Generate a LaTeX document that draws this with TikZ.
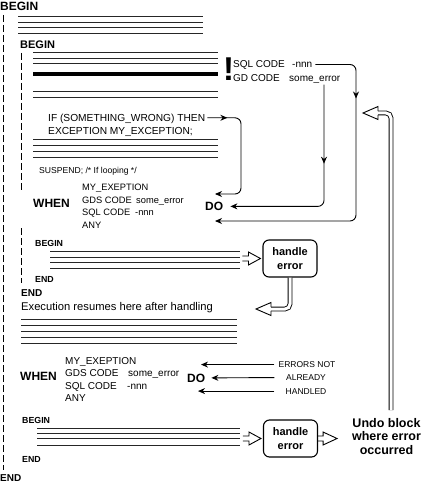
\documentclass[tikz,border=0pt]{standalone}
\usepackage{fontspec}
\setmainfont{Liberation Sans}
\usetikzlibrary{arrows.meta,decorations.markings}
\begin{document}
\begin{tikzpicture}[x=1pt,y=-1pt,
  txt/.style={inner sep=0pt, anchor=base west},
  kw/.style={txt, font=\fontsize{12}{14}\selectfont\bfseries},
  kwsmall/.style={txt, font=\fontsize{8.8}{10}\selectfont\bfseries},
  ctxt/.style={txt, font=\fontsize{10}{12}\selectfont},
  ctxtn/.style={txt, font=\fontsize{9.3}{11}\selectfont},
  codeline/.style={line width=0.7pt, black!85},
  vrule/.style={line width=0.9pt, dash pattern=on 7pt off 3pt},
  conn/.style={line width=0.9pt, rounded corners=6pt},
  arr/.style={-{Stealth[length=7pt,width=6pt]}},
  midarr/.style={decoration={markings, mark=at position #1 with {\arrow{Stealth[length=7pt,width=6pt]}}}, postaction={decorate}},
  hbox/.style={draw, line width=1.1pt, rounded corners=6pt, minimum width=54pt, minimum height=37pt, align=center, inner sep=0pt, font=\fontsize{11}{13.5}\selectfont\bfseries},
  hollow/.style={line width=0.9pt, line join=miter},
  dbl/.style={double, double distance=3pt, line width=0.9pt, rounded corners=5pt},
  errtxt/.style={inner sep=0pt, anchor=base, font=\fontsize{8.5}{10}\selectfont}
]
\useasboundingbox (0,0) rectangle (425,484);

% block rules (dashed verticals)
\draw[vrule] (3,15) -- (3,470);
\draw[vrule] (21,53) -- (21,192);
\draw[vrule] (21,228) -- (21,283);

% code lines
\foreach \y in {16,22,27,33} \draw[codeline] (18,\y) -- (203,\y);
\foreach \y in {52.5,58,63,91,97} \draw[codeline] (33,\y) -- (218,\y);
\fill (33,71.8) rectangle (218,76.5);
\foreach \y in {139,145,151,157} \draw[codeline] (33,\y) -- (218,\y);
\foreach \y in {251,257,262.5,268} \draw[codeline] (50,\y) -- (240,\y);
\foreach \y in {319,325,331,337,343} \draw[codeline] (21,\y) -- (237,\y);
\foreach \y in {428,433,438.5,445} \draw[codeline] (37,\y) -- (240,\y);

% texts
\node[kw] (b0) at (0,10.5) {BEGIN};
\node[txt, font=\fontsize{11}{13}\selectfont\bfseries] (b1) at (20,49) {BEGIN};
\node[txt, font=\fontsize{10.2}{12}\selectfont] (ifthen) at (48,121.5) {IF (SOMETHING\_WRONG) THEN};
\node[txt, font=\fontsize{10.2}{12}\selectfont] (exc) at (48,134) {EXCEPTION MY\_EXCEPTION;};
\node[txt, font=\fontsize{8.6}{10}\selectfont] (susp) at (39,173) {SUSPEND; /* If looping */};

\node[txt, font=\fontsize{33}{33}\selectfont\bfseries] (bang) at (223,80.5) {!};
\node[ctxt] (sql1) at (233,67.5) {SQL CODE};
\node[ctxt] (nnn1) at (292,67.5) {-nnn};
\node[ctxt] (gd1) at (233,81.5) {GD CODE};
\node[ctxt] (se1) at (289,81.5) {some\_error};

\node[kw] (when1) at (33,207.5) {WHEN};
\node[ctxtn] (my1) at (82,190.5) {MY\_EXEPTION};
\node[ctxtn] (gds1) at (82,203) {GDS CODE};
\node[ctxtn] (se2) at (136,203) {some\_error};
\node[ctxtn] (sql2) at (82,215.5) {SQL CODE};
\node[ctxtn] (nnn2) at (135,215.5) {-nnn};
\node[ctxtn] (any1) at (82,228) {ANY};
\node[kw] (do1) at (205,210.5) {DO};

\node[kwsmall] (b2) at (35,246) {BEGIN};
\node[kwsmall] (e2) at (35,282) {END};
\node[txt, font=\fontsize{10}{12}\selectfont\bfseries] (e1) at (21,296) {END};
\node[txt, font=\fontsize{11.2}{13}\selectfont] (exec) at (21,310.5) {Execution resumes here after handling};

\node[kw] (when2) at (20,380) {WHEN};
\node[ctxt] (my2) at (65,364) {MY\_EXEPTION};
\node[ctxt] (gds2) at (65,376.5) {GDS CODE};
\node[ctxt] (se3) at (128,376.5) {some\_error};
\node[ctxt] (sql3) at (65,389) {SQL CODE};
\node[ctxt] (nnn3) at (127,389) {-nnn};
\node[ctxt] (any2) at (65,401.5) {ANY};
\node[kw] (do2) at (187,382) {DO};

\node[kwsmall] (b3) at (22,423) {BEGIN};
\node[kwsmall] (e3) at (22,462) {END};
\node[txt, font=\fontsize{10}{12}\selectfont\bfseries] (e0) at (0,481) {END};

\node[hbox] (he1) at (290,258.5) {handle\\error};
\node[hbox] (he2) at (290.5,438.5) {handle\\error};

\node[font=\fontsize{12.5}{13.5}\selectfont\bfseries, align=center, inner sep=0pt, anchor=north] (undo) at (386.5,418) {Undo block\\where error\\occurred};

\node[errtxt] (en1) at (307,367.5) {ERRORS NOT};
\node[errtxt] (en2) at (306,380.5) {ALREADY};
\node[errtxt] (en3) at (306,394) {HANDLED};

% upper arrows to DO
\coordinate (a1x) at (241,150);
\coordinate (a1e) at (215,194);
\draw[conn, arr, midarr=20pt] ([xshift=2pt,yshift=3.7pt]ifthen.base east) -| (a1x) |- (a1e);

\coordinate (a2x) at (356,150);
\coordinate (a2e) at (215,221);
\draw[conn, arr, midarr=72pt] ([xshift=3pt,yshift=3pt]nnn1.base east) -| (a2x) |- (a2e);

\draw[conn, arr, midarr=79pt] ([xshift=35pt,yshift=-1pt]se1.south west) |- ([xshift=7pt]do1.east);

% lower arrows to DO
\coordinate (es) at ([xshift=-4pt]en1.west);
\coordinate (lx1) at (201,0);
\coordinate (lx3) at (198,0);
\coordinate (s2) at (es |- en2.west);
\coordinate (s3) at (es |- en3.west);
\draw[line width=0.9pt, arr] (es) -- (es -| lx1);
\draw[line width=0.9pt, arr] (s2) -- ([xshift=6pt]do2.east);
\draw[line width=0.9pt, arr] (s3) -- (s3 -| lx3);

% hollow arrows into / out of the handler boxes
\draw[hollow] ([xshift=-20pt,yshift=2.5pt]he1.west) -- ++(6,0) -- ++(0,-4) -- ++(12,6.5) -- ++(-12,6.5) -- ++(0,-4) -- ++(-6,0);
\draw[hollow] ([xshift=-20pt,yshift=2.5pt]he2.west) -- ++(6,0) -- ++(0,-4) -- ++(12,6.5) -- ++(-12,6.5) -- ++(0,-4) -- ++(-6,0);
\draw[hollow] ([yshift=2.5pt]he2.east) -- ++(5,0) -- ++(0,-4) -- ++(14,6.5) -- ++(-14,6.5) -- ++(0,-4) -- ++(-5,0);

% double-line return arrows
\coordinate (h1t) at (256,309);
\draw[dbl] (he1.south) |- ([xshift=15pt]h1t);
\draw[hollow] ([xshift=15pt,yshift=1.95pt]h1t) -- ++(0,-4.55) -- (h1t) -- ++(15,6.5) -- ++(0,-4.55);

\coordinate (ustart) at (391,410);
\coordinate (utip) at (363,113);
\draw[dbl] (ustart) |- ([xshift=15pt]utip);
\draw[hollow] ([xshift=15pt,yshift=1.95pt]utip) -- ++(0,-4.55) -- (utip) -- ++(15,6.5) -- ++(0,-4.55);
\end{tikzpicture}
\end{document}
